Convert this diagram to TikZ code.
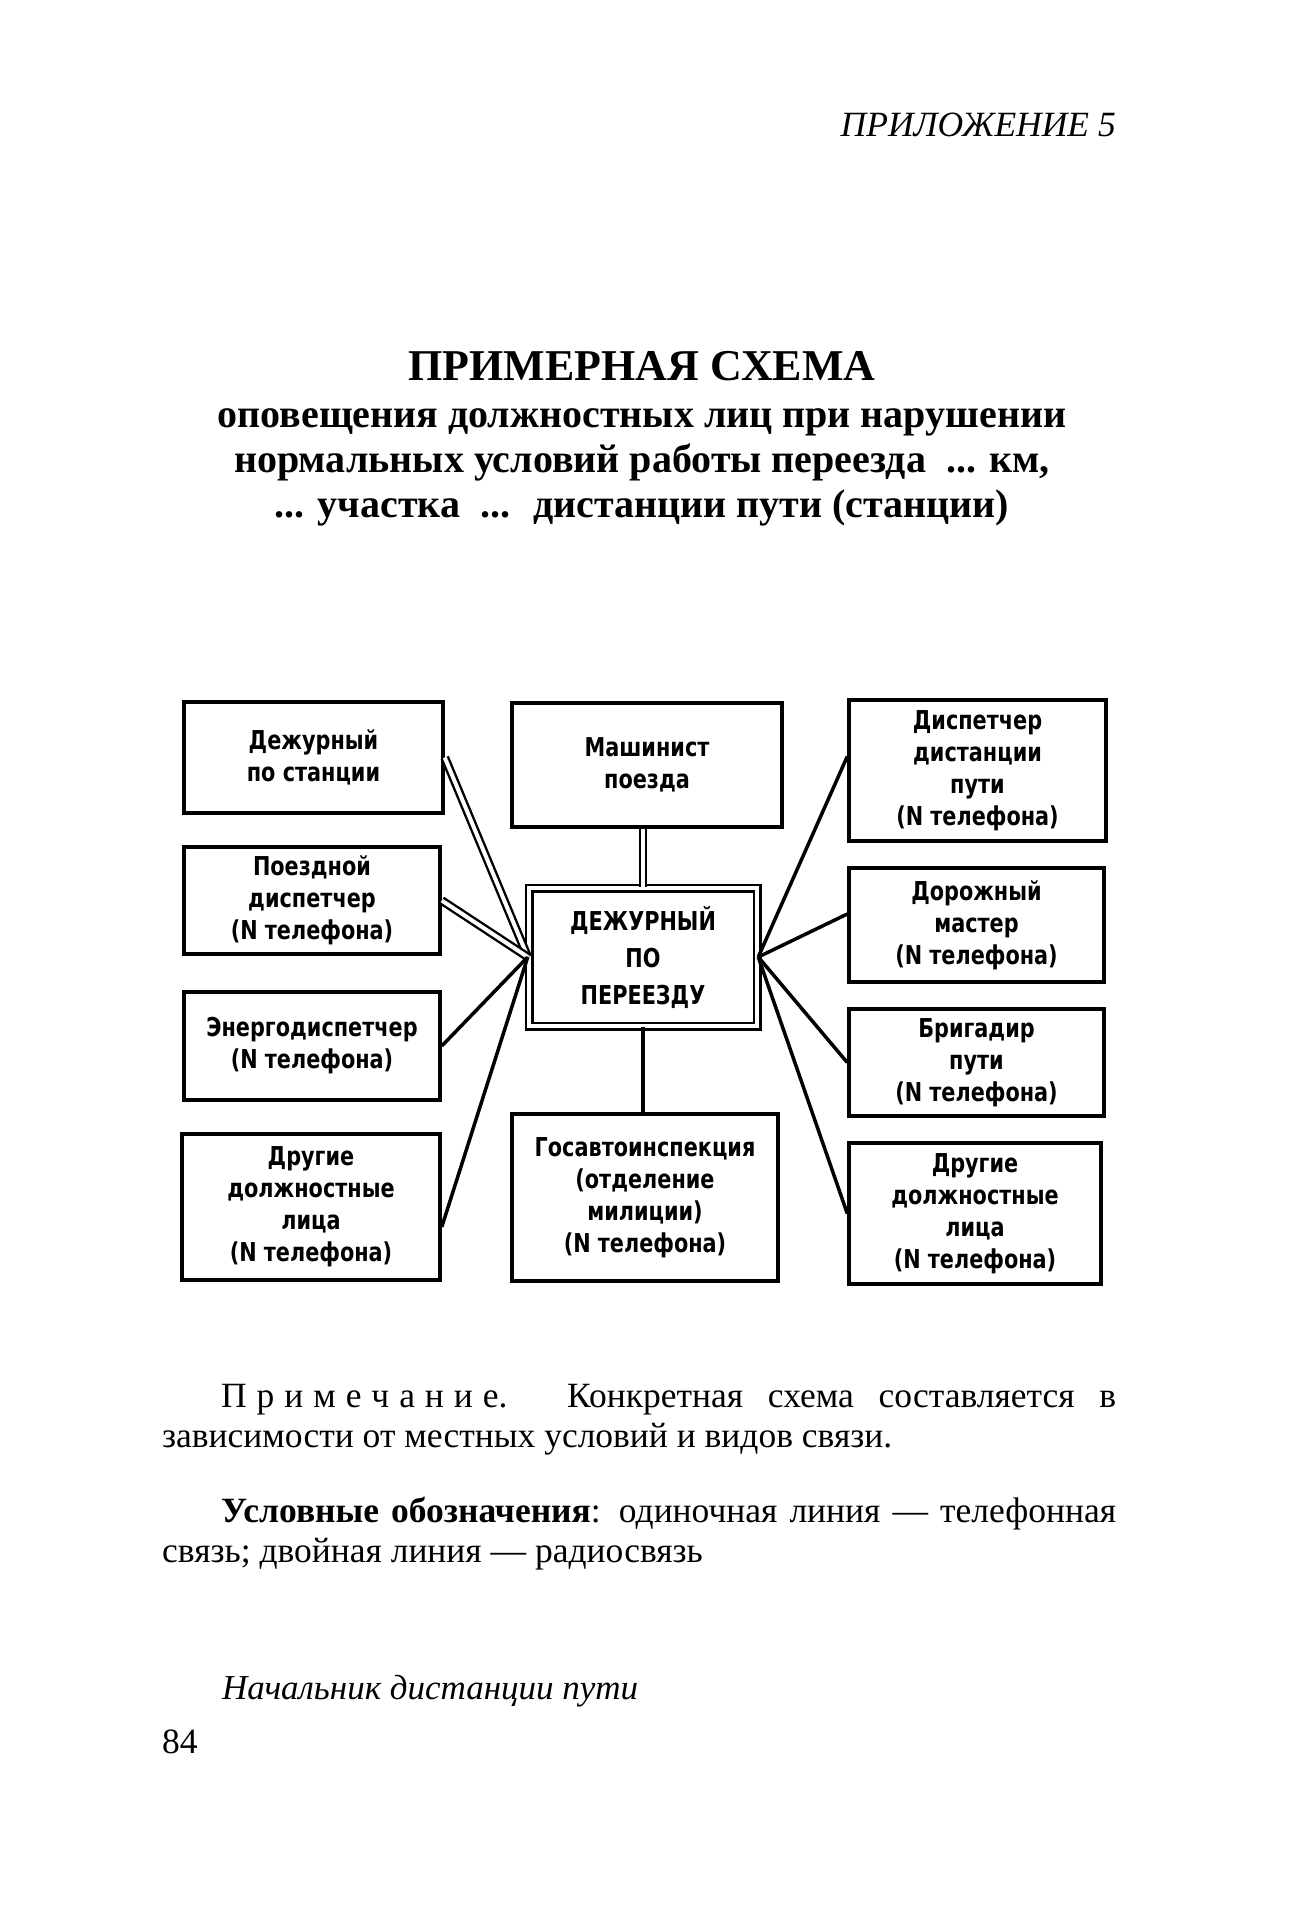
\documentclass[tikz,border=0pt]{standalone}
\usepackage{fontspec}
\setmainfont{Liberation Serif}
\newfontfamily\boxfont{DejaVu Sans}[FakeStretch=0.8]
\newcommand\ltsp{\hspace{.28em}}

\begin{document}
\begin{tikzpicture}[x=1pt, y=-1pt, every node/.style={inner sep=0pt},
	postbox/.style={draw, line width=3.5pt, align=center, font=\boxfont\bfseries\fontsize{26}{32}\selectfont},
	phone/.style={line width=3.5pt},
	radio/.style={double, double distance=4pt, line width=2.4pt},
	body/.style={font=\fontsize{35.5}{40}\selectfont},
	subtitle/.style={font=\bfseries\fontsize{40}{45}\selectfont, anchor=base}]
	\useasboundingbox (0,0) rectangle (1290,1906);
	% heading
	\node[font=\itshape\fontsize{35.5}{40}\selectfont, anchor=base east] (app) at (1116,136) {ПРИЛОЖЕНИЕ 5};
	\node[font=\bfseries\fontsize{44}{50}\selectfont, anchor=base] (title) at (642,380) {ПРИМЕРНАЯ СХЕМА};
	\node[subtitle] (sub1) at (642,427) {оповещения должностных лиц при нарушении};
	\node[subtitle] (sub2) at (642,472) {нормальных условий работы переезда \ ... км,};
	\node[subtitle] (sub3) at (642,517) {... участка \ ... \ дистанции пути (станции)};
	% boxes
	\node[postbox, minimum width=259pt, minimum height=111pt] (stan) at (313.5,757.5) {Дежурный\\по станции};
	\node[postbox, minimum width=256pt, minimum height=107pt] (pd) at (312,900.5) {Поездной\\диспетчер\\(N телефона)};
	\node[postbox, minimum width=256pt, minimum height=108pt] (ed) at (312,1046) {Энергодиспетчер\\(N телефона)};
	\node[postbox, minimum width=258pt, minimum height=146pt] (drl) at (311,1207) {Другие\\должностные\\лица\\(N телефона)};
	\node[postbox, minimum width=270pt, minimum height=124pt] (mash) at (647,765) {Машинист\\поезда};
	\node[postbox, double, double distance=4pt, line width=2.5pt, minimum width=228pt, minimum height=138pt,
		font=\boxfont\bfseries\fontsize{26}{37}\selectfont] (per) at (643,957) {ДЕЖУРНЫЙ\\ПО\\ПЕРЕЕЗДУ};
	\node[postbox, minimum width=266pt, minimum height=167pt] (gai) at (645,1197.5) {Госавтоинспекция\\(отделение\\милиции)\\(N телефона)};
	\node[postbox, minimum width=257pt, minimum height=141pt] (ddp) at (977.5,770.5) {Диспетчер\\дистанции\\пути\\(N телефона)};
	\node[postbox, minimum width=255pt, minimum height=114pt] (dm) at (976.5,925) {Дорожный\\мастер\\(N телефона)};
	\node[postbox, minimum width=255pt, minimum height=107pt] (bp) at (976.5,1062.5) {Бригадир\\пути\\(N телефона)};
	\node[postbox, minimum width=252pt, minimum height=141pt] (drr) at (975,1213.5) {Другие\\должностные\\лица\\(N телефона)};
	% links
	\draw[radio] (stan.east) -- (per.west);
	\draw[radio] (pd.east) -- (per.west);
	\draw[phone] (ed.east) -- (per.west);
	\draw[phone] ([yshift=-20pt]drl.east) -- (per.west);
	\draw[radio] (mash.south -| per.north) -- (per.north);
	\draw[phone] (per.south) -- (gai.north -| per.south);
	\draw[phone] ([yshift=14pt]ddp.west) -- (per.east);
	\draw[phone] ([yshift=11pt]dm.west) -- (per.east);
	\draw[phone] (bp.west) -- (per.east);
	\draw[phone] (drr.west) -- (per.east);
	% notes
	\node[body, anchor=north west, text width=954pt, align=justify] (note) at (162,1384)
		{\hspace*{59pt}П\ltsp р\ltsp и\ltsp м\ltsp е\ltsp ч\ltsp а\ltsp н\ltsp и\ltsp е. Конкретная схема составляется в\linebreak
		зависимости от местных условий и видов связи.};
	\node[body, anchor=north west, text width=954pt, align=justify] (legend) at (162,1497)
		{\hspace*{59pt}\textbf{Условные обозначения}: одиночная линия — телефонная\linebreak
		связь; двойная линия — радиосвязь};
	\node[font=\itshape\fontsize{35}{40}\selectfont, anchor=base west] (chief) at (222,1699) {Начальник дистанции пути};
	\node[body, anchor=base west] (page) at (162,1753) {84};
\end{tikzpicture}
\end{document}
